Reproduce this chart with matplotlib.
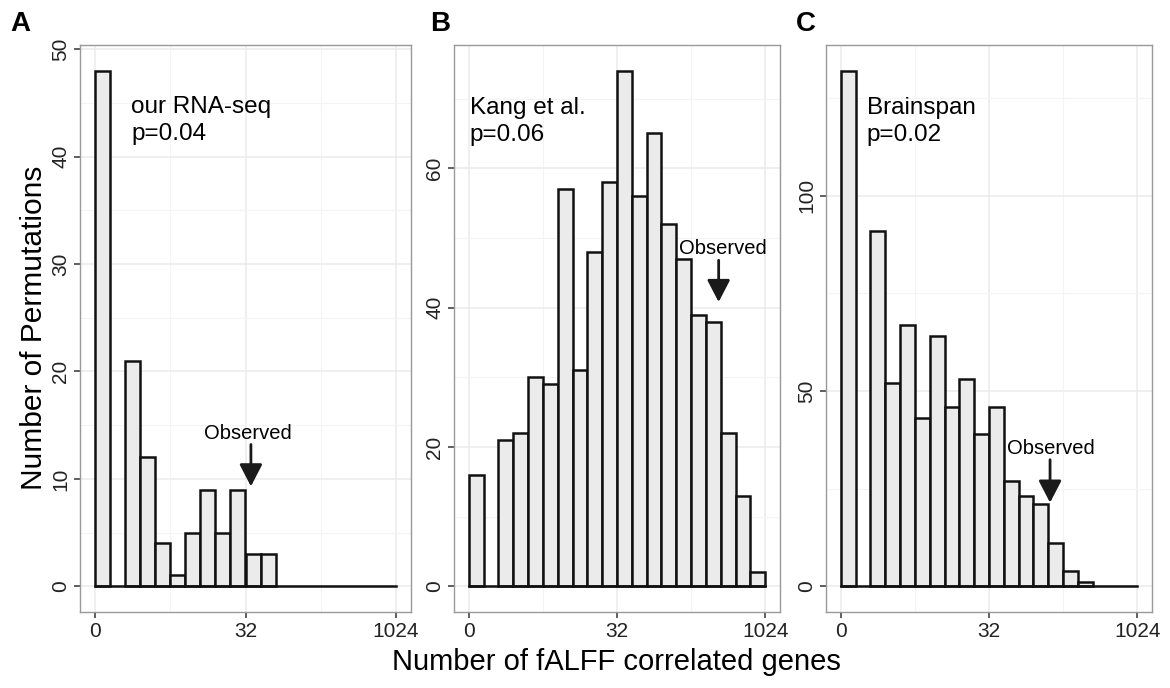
import numpy as np
import matplotlib
matplotlib.use("Agg")
import matplotlib.pyplot as plt
from matplotlib.ticker import FixedLocator

plt.rcParams['font.family'] = ['Liberation Sans', 'DejaVu Sans']

# ---- data (20 bins over log2 scale 0..10) ----
counts_A = [48, 0, 21, 12, 4, 1, 5, 9, 5, 9, 3, 3, 0, 0, 0, 0, 0, 0, 0, 0]
counts_B = [16, 0, 21, 22, 30, 29, 57, 31, 48, 58, 74, 56, 65, 52, 47, 39, 38, 22, 13, 2]
counts_C = [132, 0, 91, 52, 67, 43, 64, 46, 53, 39, 46, 27, 23, 21, 11, 4, 1, 0, 0, 0]
x_tick_labels = ["0", "32", "1024"]
panel_letters = ["A", "B", "C"]
dataset_names = ["our RNA-seq", "Kang et al.", "Brainspan"]
p_values = ["p=0.04", "p=0.06", "p=0.02"]
yticks_A = [0, 10, 20, 30, 40, 50]
yticks_B = [0, 20, 40, 60]
yticks_C = [0, 50, 100]
observed_label = "Observed"

W, H = 1170, 688
fig = plt.figure(figsize=(W / 100, H / 100), dpi=100)

def fx(px):
    return px / W

def fy(py):
    return 1 - py / H

panel_bounds = [(80, 411), (454, 780), (826, 1152)]
top_px, bot_px = 45, 612

# annotation placement (data coords)
ann = [
    dict(tx=1.2, b1=44.1, b2=41.6, ax=5.18, tip=9.3, tail=13.2, lx=5.07, lb=13.74),
    dict(tx=0.03, b1=67.8, b2=63.9, ax=8.43, tip=40.8, tail=46.8, lx=8.57, lb=47.7),
    dict(tx=0.87, b1=121.0, b2=114.1, ax=7.06, tip=21.4, tail=32.4, lx=7.09, lb=33.9),
]
letter_x = [10, 430, 796]

all_counts = [counts_A, counts_B, counts_C]
all_yticks = [yticks_A, yticks_B, yticks_C]
edges = np.linspace(0, 10, 21)
bw = edges[1] - edges[0]
tick_pos = [0, 5, 10]

for i in range(3):
    l, r = panel_bounds[i]
    ax = fig.add_axes([fx(l), fy(bot_px), fx(r - l), (bot_px - top_px) / H])
    c = np.array(all_counts[i])
    m = c.max()
    ax.set_xlim(-0.5, 10.5)
    ax.set_ylim(-0.05 * m, 1.05 * m)
    ax.set_facecolor('white')
    ax.set_axisbelow(True)
    yt = all_yticks[i]
    ax.set_yticks(yt)
    step = yt[1] - yt[0]
    ymin_minor = [v + step / 2 for v in yt if v + step / 2 < 1.05 * m]
    ax.yaxis.set_minor_locator(FixedLocator(ymin_minor))
    ax.set_xticks(tick_pos)
    ax.set_xticklabels(x_tick_labels)
    ax.xaxis.set_minor_locator(FixedLocator([2.5, 7.5]))
    ax.grid(which='major', color='#EBEBEB', lw=1.1)
    ax.grid(which='minor', color='#F4F4F4', lw=0.8)
    ax.tick_params(which='minor', length=0)
    ax.tick_params(which='major', length=4, width=1.1, color='#333333',
                   labelsize=15, labelcolor='#222222', pad=3)
    for lab in ax.get_yticklabels():
        lab.set_rotation(90)
        lab.set_va('center')
    for s in ax.spines.values():
        s.set_color('#999999')
        s.set_linewidth(1.0)
    nz = c > 0
    ax.bar(edges[:-1][nz], c[nz], width=bw, align='edge', color='#EBEBEB',
           edgecolor='#111111', linewidth=1.8, zorder=3)
    # zero-count bins collapse to the baseline
    ax.plot([edges[0], edges[-1]], [0, 0], color='#111111', lw=1.8,
            solid_capstyle='projecting', zorder=4)
    a = ann[i]
    ax.text(a['tx'], a['b1'], dataset_names[i], fontsize=17.5, va='baseline', ha='left', zorder=5)
    ax.text(a['tx'], a['b2'], p_values[i], fontsize=17.5, va='baseline', ha='left', zorder=5)
    ax.text(a['lx'], a['lb'], observed_label, fontsize=14.5, va='baseline', ha='center', zorder=5)
    ax.annotate('', xy=(a['ax'], a['tip']), xytext=(a['ax'], a['tail']),
                arrowprops=dict(arrowstyle='-|>,head_length=1.35,head_width=0.7',
                                mutation_scale=10, lw=2.0, color='#1a1a1a',
                                shrinkA=0, shrinkB=0), zorder=6)
    fig.text(fx(letter_x[i]), fy(11), panel_letters[i], fontsize=20, fontweight='bold',
             ha='left', va='top')

fig.text(fx(616), fy(662), "Number of fALFF correlated genes", fontsize=21, ha='center', va='center')
fig.text(fx(34), fy(328), "Number of Permutations", fontsize=21.5, ha='center', va='center', rotation=90)

fig.savefig("out.png", dpi=100)
